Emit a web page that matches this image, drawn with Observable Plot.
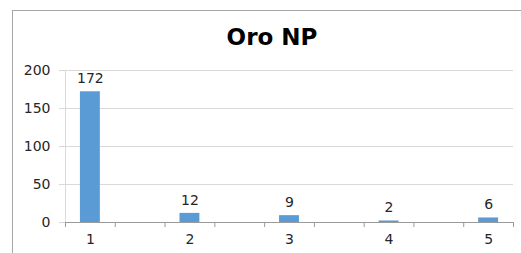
<!DOCTYPE html>
<html>
<head>
<meta charset="utf-8">
<script src="https://cdn.jsdelivr.net/npm/d3@7"></script>
<script src="https://cdn.jsdelivr.net/npm/@observablehq/plot@0.6"></script>
<style>
  html, body { margin: 0; padding: 0; background: #fff; overflow: hidden; }
  #wrap { position: relative; width: 521px; height: 253px; }
  #frame { position: absolute; left: 12px; top: 10px; width: 600px; height: 300px;
           border-left: 1px solid #a6a6a6; border-top: 1px solid #a6a6a6; }
  #title { position: absolute; left: 172px; width: 200px; top: 26px; text-align: center;
           font: bold 23px "DejaVu Sans", sans-serif; line-height: 22px; color: #000; }
  #chart { position: absolute; left: 0; top: 0; }
</style>
</head>
<body>
<div id="wrap">
  <div id="frame"></div>
  <div id="title"></div>
  <div id="chart"></div>
</div>
<script>
const title = "Oro NP";
const categories = [1, 2, 3, 4, 5];
const values = [172, 12, 9, 2, 6];
const yTicks = [0, 50, 100, 150, 200];
// category boundaries (tick marks between categories)
const xBoundaries = [0.75, 1.25, 1.75, 2.25, 2.75, 3.25, 3.75, 4.25, 4.75, 5.25];

const data = categories.map((c, i) => ({cat: c, value: values[i]}));
const halfBar = 0.1;

document.getElementById("title").textContent = title;

const chart = Plot.plot({
  width: 521,
  height: 253,
  marginLeft: 65,
  marginRight: 8,
  marginTop: 70,
  marginBottom: 31,
  style: {fontFamily: "DejaVu Sans, sans-serif", fontSize: "14px", background: "transparent", color: "#262626"},
  x: {type: "linear", domain: [0.75, 5.25]},
  y: {domain: [0, 200]},
  marks: [
    Plot.gridY(yTicks.filter(d => d > 0), {stroke: "#d9d9d9", strokeOpacity: 1}),
    Plot.ruleX([0.75], {y1: 0, y2: 200, stroke: "#d9d9d9"}),
    Plot.axisY({ticks: yTicks, tickSize: 6, tickPadding: 9, stroke: "#d9d9d9", fill: "#262626", label: null, tickFormat: d => d}),
    Plot.rectY(data, {x1: d => d.cat - halfBar, x2: d => d.cat + halfBar, y: "value", fill: "#5b9bd5"}),
    Plot.ruleY([0], {stroke: "#9a9a9a"}),
    Plot.axisX({ticks: xBoundaries, tickSize: 5, stroke: "#9a9a9a", tickFormat: () => "", label: null}),
    Plot.axisX({ticks: categories, tickSize: 0, tickPadding: 12, fill: "#262626", label: null, tickFormat: d => d}),
    Plot.text(data, {x: "cat", y: "value", text: d => String(d.value), dy: -13, fill: "#262626"})
  ]
});
document.getElementById("chart").appendChild(chart);
</script>
</body>
</html>
